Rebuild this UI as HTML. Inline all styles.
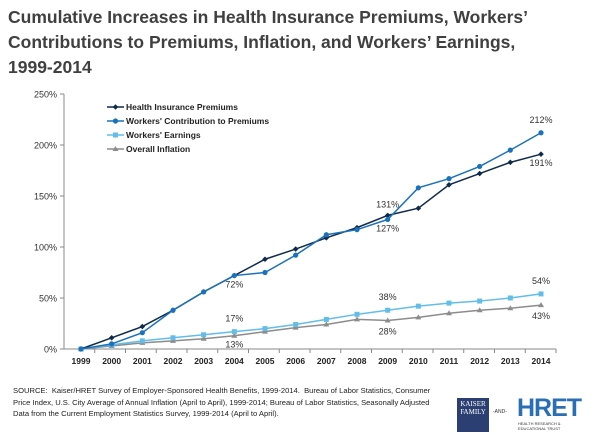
<!DOCTYPE html>
<html><head><meta charset="utf-8"><style>
body{margin:0;width:600px;height:435px;background:#fff;font-family:"Liberation Sans",sans-serif;overflow:hidden;position:relative}
#title{position:absolute;left:8px;top:5px;font-size:17.5px;font-weight:bold;color:#404040;line-height:25px;width:595px;white-space:nowrap}
#src{position:absolute;left:13px;top:385px;font-size:7.6px;line-height:11.5px;color:#222;width:430px}
svg text{font-family:"Liberation Sans",sans-serif}
</style></head><body>
<div id="title">Cumulative Increases in Health Insurance Premiums, Workers’<br>Contributions to Premiums, Inflation, and Workers’ Earnings,<br>1999-2014</div>
<svg id="chart" width="600" height="435" style="position:absolute;left:0;top:0"></svg>
<div id="src">SOURCE:&nbsp; Kaiser/HRET Survey of Employer-Sponsored Health Benefits, 1999-2014.&nbsp; Bureau of Labor Statistics, Consumer Price Index, U.S. City Average of Annual Inflation (April to April), 1999-2014; Bureau of Labor Statistics, Seasonally Adjusted Data from the Current Employment Statistics Survey, 1999-2014 (April to April).</div>
<div style="position:absolute;left:457px;top:398px;width:32px;height:34px;background:#2b3f73;color:#fff;font-family:'Liberation Serif',serif;font-size:7px;line-height:8px;text-align:center;padding-top:2px;box-sizing:border-box">KAISER<br>FAMILY</div>
<div style="position:absolute;left:493px;top:409px;font-size:5px;color:#333">-AND-</div>
<div style="position:absolute;left:517px;top:396px;font-size:25px;font-weight:bold;color:#2a6fb5;letter-spacing:-1px;line-height:24px">HRET</div>
<div style="position:absolute;left:518px;top:421px;font-size:4px;color:#333;line-height:5px">HEALTH RESEARCH &amp;<br>EDUCATIONAL TRUST</div>
<script>
const years=[1999,2000,2001,2002,2003,2004,2005,2006,2007,2008,2009,2010,2011,2012,2013,2014];
const premiums=[0,11,22,38,56,72,88,98,109,119,131,138,161,172,183,191];
const contributions=[0,5,16,38,56,72,75,92,112,117,127,158,167,179,195,212];
const earnings=[0,4,8,11,14,17,20,24,29,34,38,42,45,47,50,54];
const inflation=[0,3,6,8,10,13,17,21,24,29,28,31,35,38,40,43];
const yTicks=[0,50,100,150,200,250];
const seriesNames=["Health Insurance Premiums","Workers' Contribution to Premiums","Workers' Earnings","Overall Inflation"];
const labels=[[premiums,10,"131%",-8],[premiums,15,"191%",12],[contributions,10,"127%",12],[contributions,15,"212%",-10],[premiums,5,"72%",12],[earnings,5,"17%",-10],[inflation,5,"13%",12],[earnings,10,"38%",-10],[inflation,10,"28%",14],[earnings,15,"54%",-10],[inflation,15,"43%",14]];
const NS="http://www.w3.org/2000/svg",svg=document.getElementById('chart');
const x0=81,x1=541,yb=349,yt=94;
const X=i=>x0+(x1-x0)*i/(years.length-1);
const Y=v=>yb-(yb-yt)*v/250;
function el(t,a,p){const e=document.createElementNS(NS,t);for(const k in a)e.setAttribute(k,a[k]);(p||svg).appendChild(e);return e;}
const ax=el('g',{});


el('line',{x1:64,y1:yt,x2:64,y2:yb,stroke:'#888'},ax);
el('line',{x1:64,y1:yb,x2:556,y2:yb,stroke:'#888'},ax);
yTicks.forEach(t=>{el('line',{x1:60,y1:Y(t),x2:64,y2:Y(t),stroke:'#888'},ax);
const tx=el('text',{x:57,y:Y(t)+3.5,'text-anchor':'end','font-size':9,fill:'#333'},ax);tx.textContent=t+'%';

});
years.forEach((yr,i)=>{const xb=64+(556-64)*(i+1)/16;el('line',{x1:xb,y1:yb,x2:xb,y2:yb+4,stroke:'#888'},ax);
const tx=el('text',{x:X(i),y:364,'text-anchor':'middle','font-size':8.5,'font-weight':'bold',fill:'#222'},ax);tx.textContent=yr;

});
const cfg=[[premiums,'#0f2a4a','diamond'],[contributions,'#1a72bb','circle'],[earnings,'#62bde8','square'],[inflation,'#8c8c8c','tri']];
function marker(g,shape,x,y,c){
 if(shape==='circle')el('circle',{cx:x,cy:y,r:2.6,fill:c},g);
 else if(shape==='square')el('rect',{x:x-2.5,y:y-2.5,width:5,height:5,fill:c},g);
 else if(shape==='diamond')el('path',{d:`M${x} ${y-2.8}L${x+2.8} ${y}L${x} ${y+2.8}L${x-2.8} ${y}Z`,fill:c},g);
 else el('path',{d:`M${x} ${y-3}L${x+3} ${y+2}L${x-3} ${y+2}Z`,fill:c},g);}
[3,2,0,1].forEach(si=>{const [d,c,sh]=cfg[si];const g=el('g',{});


el('polyline',{points:d.map((v,i)=>X(i)+','+Y(v)).join(' '),fill:'none',stroke:c,'stroke-width':1.5},g);
d.forEach((v,i)=>marker(g,sh,X(i),Y(v),c));});
labels.forEach(([d,i,t,dy])=>{const tx=el('text',{x:X(i),y:Y(d[i])+dy,'text-anchor':'middle','font-size':9,fill:'#333'});tx.textContent=t;

});
seriesNames.forEach((n,k)=>{const g=el('g',{});


const y=107+k*14;el('line',{x1:107,y1:y,x2:124,y2:y,stroke:cfg[k][1],'stroke-width':1.5},g);marker(g,cfg[k][2],115.5,y,cfg[k][1]);
const tx=el('text',{x:126,y:y+3,'font-size':8.5,'font-weight':'bold',fill:'#222'},g);tx.textContent=n;});
</script>
</body></html>
